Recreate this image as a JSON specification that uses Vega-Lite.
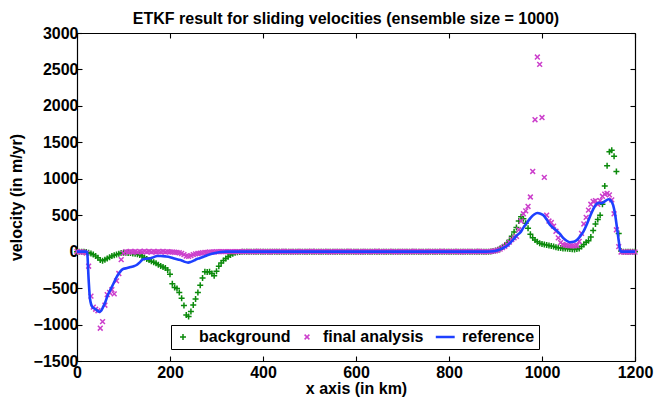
{
"$schema": "https://vega.github.io/schema/vega-lite/v6.json",
"width": 558, "height": 328,
"autosize": {"type": "none"},
"padding": {"left": 77, "top": 33, "right": 30, "bottom": 40},
"background": "white",
"config": {
  "font": "Liberation Sans",
  "view": {"stroke": null},
  "axis": {"labelFont": "Liberation Sans", "labelFontSize": 16, "labelFontWeight": "bold", "labelColor": "black",
           "titleFont": "Liberation Sans", "titleFontSize": 16, "titleFontWeight": "bold", "titleColor": "black",
           "domainColor": "black", "domainWidth": 1.2, "tickColor": "black", "tickWidth": 1.1, "tickSize": -5,
           "grid": false, "labelPadding": 4, "labelFlush": false}
},
"title": {"text": "ETKF result for sliding velocities (ensemble size = 1000)", "font": "Liberation Sans", "fontSize": 16, "fontWeight": "bold", "color": "black", "anchor": "middle", "baseline": "alphabetic", "offset": -14.5, "dx": -10},
"datasets": {
"pts": [
{"x":0,"background":0,"final analysis":0},{"x":5,"background":0,"final analysis":-5},{"x":10,"background":0,"final analysis":-3},{"x":15,"background":0,"final analysis":-5},
{"x":20,"background":-5,"final analysis":-20},{"x":25,"background":-15,"final analysis":-200},{"x":30,"background":-25,"final analysis":-610},{"x":35,"background":-40,"final analysis":-760},
{"x":40,"background":-60,"final analysis":-790},{"x":45,"background":-85,"final analysis":-810},{"x":50,"background":-115,"final analysis":-1050},{"x":55,"background":-125,"final analysis":-960},
{"x":60,"background":-110,"final analysis":-735},{"x":65,"background":-95,"final analysis":-590},{"x":70,"background":-75,"final analysis":-560},{"x":75,"background":-60,"final analysis":-520},
{"x":80,"background":-50,"final analysis":-580},{"x":85,"background":-40,"final analysis":-400},{"x":90,"background":-30,"final analysis":-300},{"x":95,"background":-20,"final analysis":-110},
{"x":100,"background":-15,"final analysis":-20},{"x":105,"background":-15,"final analysis":0},{"x":110,"background":-20,"final analysis":-5},{"x":115,"background":-20,"final analysis":3},
{"x":120,"background":-25,"final analysis":-4},{"x":125,"background":-30,"final analysis":2},{"x":130,"background":-35,"final analysis":-6},{"x":135,"background":-45,"final analysis":4},
{"x":140,"background":-60,"final analysis":-3},{"x":145,"background":-80,"final analysis":5},{"x":150,"background":-100,"final analysis":-2},{"x":155,"background":-115,"final analysis":4},
{"x":160,"background":-130,"final analysis":-5},{"x":165,"background":-145,"final analysis":3},{"x":170,"background":-160,"final analysis":-4},{"x":175,"background":-180,"final analysis":2},
{"x":180,"background":-195,"final analysis":-3},{"x":185,"background":-210,"final analysis":4},{"x":190,"background":-225,"final analysis":-5},{"x":195,"background":-250,"final analysis":0},
{"x":200,"background":-310,"final analysis":-3},{"x":205,"background":-440,"final analysis":-5},{"x":210,"background":-490,"final analysis":-8},{"x":215,"background":-505,"final analysis":-10},
{"x":220,"background":-560,"final analysis":-15},{"x":225,"background":-640,"final analysis":-25},{"x":230,"background":-740,"final analysis":-40},{"x":235,"background":-870,"final analysis":-60},
{"x":240,"background":-890,"final analysis":-65},{"x":245,"background":-820,"final analysis":-55},{"x":250,"background":-730,"final analysis":-40},{"x":255,"background":-650,"final analysis":-30},
{"x":260,"background":-560,"final analysis":-25},{"x":265,"background":-460,"final analysis":-20},{"x":270,"background":-360,"final analysis":-15},{"x":275,"background":-275,"final analysis":-10},
{"x":280,"background":-280,"final analysis":-10},{"x":285,"background":-275,"final analysis":-5},{"x":290,"background":-300,"final analysis":-5},{"x":295,"background":-330,"final analysis":-5},
{"x":300,"background":-270,"final analysis":0},{"x":305,"background":-200,"final analysis":0},{"x":310,"background":-155,"final analysis":0},{"x":315,"background":-120,"final analysis":0},
{"x":320,"background":-95,"final analysis":0},{"x":325,"background":-70,"final analysis":0},{"x":330,"background":-45,"final analysis":0},{"x":335,"background":-30,"final analysis":0},
{"x":340,"background":-15,"final analysis":0},{"x":345,"background":-8,"final analysis":0},{"x":350,"background":-3,"final analysis":0},
{"x":355,"background":0,"final analysis":0},{"x":360,"background":0,"final analysis":3},{"x":365,"background":0,"final analysis":-2},{"x":370,"background":0,"final analysis":4},
{"x":375,"background":0,"final analysis":1},{"x":380,"background":0,"final analysis":-3},{"x":385,"background":0,"final analysis":2},{"x":390,"background":0,"final analysis":5},
{"x":395,"background":0,"final analysis":0},{"x":400,"background":0,"final analysis":-2},{"x":405,"background":0,"final analysis":3},{"x":410,"background":0,"final analysis":1},
{"x":415,"background":0,"final analysis":-4},{"x":420,"background":0,"final analysis":2},{"x":425,"background":0,"final analysis":4},{"x":430,"background":0,"final analysis":0},
{"x":435,"background":0,"final analysis":-3},{"x":440,"background":0,"final analysis":2},{"x":445,"background":0,"final analysis":5},{"x":450,"background":0,"final analysis":1},
{"x":455,"background":0,"final analysis":-2},{"x":460,"background":0,"final analysis":3},{"x":465,"background":0,"final analysis":0},{"x":470,"background":0,"final analysis":-4},
{"x":475,"background":0,"final analysis":2},{"x":480,"background":0,"final analysis":4},{"x":485,"background":0,"final analysis":1},{"x":490,"background":0,"final analysis":-2},
{"x":495,"background":0,"final analysis":3},{"x":500,"background":0,"final analysis":0},{"x":505,"background":0,"final analysis":5},{"x":510,"background":0,"final analysis":-3},
{"x":515,"background":0,"final analysis":2},{"x":520,"background":0,"final analysis":1},{"x":525,"background":0,"final analysis":-2},{"x":530,"background":0,"final analysis":4},
{"x":535,"background":0,"final analysis":0},{"x":540,"background":0,"final analysis":3},{"x":545,"background":0,"final analysis":-4},{"x":550,"background":0,"final analysis":1},
{"x":555,"background":0,"final analysis":2},{"x":560,"background":0,"final analysis":-1},{"x":565,"background":0,"final analysis":4},{"x":570,"background":0,"final analysis":0},
{"x":575,"background":0,"final analysis":-3},{"x":580,"background":0,"final analysis":2},{"x":585,"background":0,"final analysis":5},{"x":590,"background":0,"final analysis":1},
{"x":595,"background":0,"final analysis":-2},{"x":600,"background":0,"final analysis":3},{"x":605,"background":0,"final analysis":0},{"x":610,"background":0,"final analysis":-4},
{"x":615,"background":0,"final analysis":2},{"x":620,"background":0,"final analysis":4},{"x":625,"background":0,"final analysis":1},{"x":630,"background":0,"final analysis":-2},
{"x":635,"background":0,"final analysis":3},{"x":640,"background":0,"final analysis":0},{"x":645,"background":0,"final analysis":5},{"x":650,"background":0,"final analysis":-3},
{"x":655,"background":0,"final analysis":2},{"x":660,"background":0,"final analysis":1},{"x":665,"background":0,"final analysis":-2},{"x":670,"background":0,"final analysis":4},
{"x":675,"background":0,"final analysis":0},{"x":680,"background":0,"final analysis":3},{"x":685,"background":0,"final analysis":-4},{"x":690,"background":0,"final analysis":1},
{"x":695,"background":0,"final analysis":2},{"x":700,"background":0,"final analysis":-1},{"x":705,"background":0,"final analysis":4},{"x":710,"background":0,"final analysis":0},
{"x":715,"background":0,"final analysis":-3},{"x":720,"background":0,"final analysis":2},{"x":725,"background":0,"final analysis":5},{"x":730,"background":0,"final analysis":1},
{"x":735,"background":0,"final analysis":-2},{"x":740,"background":0,"final analysis":3},{"x":745,"background":0,"final analysis":0},{"x":750,"background":0,"final analysis":-4},
{"x":755,"background":0,"final analysis":2},{"x":760,"background":0,"final analysis":4},{"x":765,"background":0,"final analysis":1},{"x":770,"background":0,"final analysis":-2},
{"x":775,"background":0,"final analysis":3},{"x":780,"background":0,"final analysis":0},{"x":785,"background":0,"final analysis":5},{"x":790,"background":0,"final analysis":-3},
{"x":795,"background":0,"final analysis":2},{"x":800,"background":0,"final analysis":1},{"x":805,"background":0,"final analysis":-2},{"x":810,"background":0,"final analysis":4},
{"x":815,"background":0,"final analysis":0},{"x":820,"background":0,"final analysis":3},{"x":825,"background":0,"final analysis":-4},{"x":830,"background":0,"final analysis":1},
{"x":835,"background":0,"final analysis":2},{"x":840,"background":0,"final analysis":-1},{"x":845,"background":0,"final analysis":4},{"x":850,"background":0,"final analysis":0},
{"x":855,"background":0,"final analysis":-3},{"x":860,"background":0,"final analysis":2},{"x":865,"background":0,"final analysis":5},{"x":870,"background":0,"final analysis":1},
{"x":875,"background":0,"final analysis":-2},{"x":880,"background":0,"final analysis":0},{"x":885,"background":0,"final analysis":0},{"x":890,"background":3,"final analysis":3},
{"x":895,"background":8,"final analysis":8},{"x":900,"background":15,"final analysis":12},{"x":905,"background":25,"final analysis":20},{"x":910,"background":45,"final analysis":35},
{"x":915,"background":65,"final analysis":55},{"x":920,"background":90,"final analysis":75},{"x":925,"background":120,"final analysis":100},{"x":930,"background":155,"final analysis":130},
{"x":935,"background":210,"final analysis":165},{"x":940,"background":270,"final analysis":190},{"x":945,"background":330,"final analysis":210},{"x":950,"background":420,"final analysis":300},
{"x":955,"background":480,"final analysis":420},{"x":960,"background":450,"final analysis":520},{"x":965,"background":390,"final analysis":560},{"x":970,"background":320,"final analysis":620},
{"x":975,"background":240,"final analysis":750},{"x":980,"background":190,"final analysis":1100},{"x":985,"background":160,"final analysis":1810},{"x":990,"background":135,"final analysis":2670},
{"x":995,"background":115,"final analysis":2570},{"x":1000,"background":105,"final analysis":1840},{"x":1005,"background":98,"final analysis":1020},{"x":1010,"background":92,"final analysis":500},
{"x":1015,"background":85,"final analysis":420},{"x":1020,"background":77,"final analysis":400},{"x":1025,"background":70,"final analysis":350},{"x":1030,"background":62,"final analysis":280},
{"x":1035,"background":55,"final analysis":190},{"x":1040,"background":50,"final analysis":125},{"x":1045,"background":45,"final analysis":100},{"x":1050,"background":42,"final analysis":90},
{"x":1055,"background":40,"final analysis":85},{"x":1060,"background":37,"final analysis":80},{"x":1065,"background":33,"final analysis":80},{"x":1070,"background":30,"final analysis":80},
{"x":1075,"background":35,"final analysis":85},{"x":1080,"background":45,"final analysis":140},{"x":1085,"background":70,"final analysis":250},{"x":1090,"background":100,"final analysis":380},
{"x":1095,"background":130,"final analysis":470},{"x":1100,"background":150,"final analysis":570},{"x":1105,"background":200,"final analysis":650},{"x":1110,"background":290,"final analysis":690},
{"x":1115,"background":380,"final analysis":700},{"x":1120,"background":440,"final analysis":650},{"x":1125,"background":500,"final analysis":700},{"x":1130,"background":650,"final analysis":760},
{"x":1135,"background":900,"final analysis":790},{"x":1140,"background":1180,"final analysis":800},{"x":1145,"background":1370,"final analysis":780},{"x":1150,"background":1390,"final analysis":710},
{"x":1155,"background":1310,"final analysis":520},{"x":1160,"background":1100,"final analysis":300},{"x":1165,"background":250,"final analysis":70},{"x":1170,"background":10,"final analysis":-5},
{"x":1175,"background":0,"final analysis":-5},{"x":1180,"background":0,"final analysis":-5},{"x":1185,"background":0,"final analysis":-5},{"x":1190,"background":0,"final analysis":-5},
{"x":1195,"background":0,"final analysis":-5},{"x":1200,"background":0,"final analysis":-5}
],
"ref": [
{"x":0,"reference":0},{"x":20,"reference":0},{"x":22,"reference":-20},{"x":25,"reference":-380},{"x":28,"reference":-650},{"x":33,"reference":-760},{"x":40,"reference":-790},
{"x":48,"reference":-825},{"x":52,"reference":-810},{"x":56,"reference":-760},{"x":61,"reference":-690},{"x":66,"reference":-600},{"x":72,"reference":-520},{"x":79,"reference":-430},
{"x":86,"reference":-340},{"x":92,"reference":-280},{"x":100,"reference":-235},{"x":108,"reference":-225},{"x":115,"reference":-210},{"x":122,"reference":-200},{"x":129,"reference":-180},
{"x":136,"reference":-140},{"x":143,"reference":-100},{"x":150,"reference":-95},{"x":158,"reference":-90},{"x":165,"reference":-75},{"x":172,"reference":-60},{"x":180,"reference":-60},
{"x":190,"reference":-65},{"x":200,"reference":-75},{"x":207,"reference":-90},{"x":215,"reference":-105},{"x":225,"reference":-120},{"x":232,"reference":-140},{"x":239,"reference":-150},
{"x":245,"reference":-140},{"x":252,"reference":-120},{"x":258,"reference":-100},{"x":264,"reference":-90},{"x":272,"reference":-70},{"x":280,"reference":-50},{"x":290,"reference":-30},
{"x":300,"reference":-15},{"x":310,"reference":-5},{"x":320,"reference":0},{"x":880,"reference":0},{"x":895,"reference":5},{"x":905,"reference":20},{"x":915,"reference":45},
{"x":925,"reference":80},{"x":931,"reference":115},{"x":940,"reference":180},{"x":947,"reference":230},{"x":953,"reference":260},{"x":960,"reference":330},{"x":967,"reference":390},
{"x":975,"reference":460},{"x":983,"reference":510},{"x":990,"reference":530},{"x":997,"reference":520},{"x":1003,"reference":500},{"x":1010,"reference":440},{"x":1017,"reference":370},
{"x":1025,"reference":320},{"x":1032,"reference":285},{"x":1039,"reference":240},{"x":1046,"reference":185},{"x":1053,"reference":150},{"x":1060,"reference":130},{"x":1068,"reference":135},
{"x":1075,"reference":160},{"x":1082,"reference":210},{"x":1089,"reference":275},{"x":1096,"reference":370},{"x":1103,"reference":480},{"x":1110,"reference":580},{"x":1118,"reference":660},
{"x":1123,"reference":670},{"x":1128,"reference":665},{"x":1135,"reference":690},{"x":1143,"reference":720},{"x":1148,"reference":700},{"x":1153,"reference":640},{"x":1157,"reference":520},
{"x":1161,"reference":340},{"x":1165,"reference":150},{"x":1168,"reference":20},{"x":1170,"reference":0},{"x":1200,"reference":0}
]
},
"layer": [
{
  "data": {"name": "pts"},
  "transform": [{"fold": ["background"], "as": ["series", "v"]}],
  "mark": {"type": "point", "filled": false, "strokeWidth": 1.5, "opacity": 1, "size": 36},
  "encoding": {
    "x": {"field": "x", "type": "quantitative", "scale": {"domain": [0, 1200], "nice": false},
          "axis": {"values": [0,200,400,600,800,1000,1200], "format": "d", "labelPadding": 8, "title": "x axis (in km)", "titleY": 32.5, "titleBaseline": "alphabetic"}},
    "y": {"field": "v", "type": "quantitative", "scale": {"domain": [-1500, 3000], "nice": false},
          "axis": {"values": [-1500,-1000,-500,0,500,1000,1500,2000,2500,3000], "format": "d", "title": "velocity (in m/yr)", "titleX": -56, "titleBaseline": "alphabetic"}},
    "color": {"field": "series", "type": "nominal",
              "scale": {"domain": ["background", "final analysis", "reference"], "range": ["#0b8a0b", "#cc3fcc", "#1e40ff"]},
              "legend": {"title": null, "orient": "none", "legendX": 94, "legendY": 292, "direction": "horizontal",
                         "symbolSize": 36, "symbolStrokeWidth": 1.5, "labelFont": "Liberation Sans", "labelFontSize": 16, "labelFontWeight": "bold", "labelColor": "black",
                         "labelOffset": 8, "columnPadding": 8, "padding": 4, "strokeColor": "black", "fillColor": "white"}},
    "shape": {"field": "series", "type": "nominal",
              "scale": {"domain": ["background", "final analysis", "reference"], "range": ["M-1,0L1,0M0,-1L0,1", "M-0.8,-0.8L0.8,0.8M-0.8,0.8L0.8,-0.8", "M-3.4,-0.2L2.9,-0.2M-3.4,0.2L2.9,0.2"]},
              "legend": {"title": null, "orient": "none", "legendX": 94, "legendY": 292, "direction": "horizontal",
                         "symbolSize": 36, "symbolStrokeWidth": 1.5, "labelFont": "Liberation Sans", "labelFontSize": 16, "labelFontWeight": "bold", "labelColor": "black",
                         "labelOffset": 8, "columnPadding": 8, "padding": 4, "strokeColor": "black", "fillColor": "white"}}
  }
},
{
  "data": {"name": "pts"},
  "transform": [{"fold": ["final analysis"], "as": ["series", "v"]}],
  "mark": {"type": "point", "filled": false, "strokeWidth": 1.5, "opacity": 1, "size": 36},
  "encoding": {
    "x": {"field": "x", "type": "quantitative", "axis": {"orient": "top", "labels": false, "title": null, "values": [0,200,400,600,800,1000,1200]}},
    "y": {"field": "v", "type": "quantitative", "axis": {"orient": "right", "labels": false, "title": null, "values": [-1500,-1000,-500,0,500,1000,1500,2000,2500,3000]}},
    "color": {"field": "series", "type": "nominal"},
    "shape": {"field": "series", "type": "nominal"}
  }
},
{
  "data": {"name": "ref"},
  "transform": [{"fold": ["reference"], "as": ["series", "v"]}],
  "mark": {"type": "line", "strokeWidth": 2.6, "interpolate": "monotone"},
  "encoding": {
    "x": {"field": "x", "type": "quantitative", "axis": null},
    "y": {"field": "v", "type": "quantitative", "axis": null},
    "color": {"field": "series", "type": "nominal"}
  }
}
],
"resolve": {"axis": {"x": "independent", "y": "independent"}}
}
